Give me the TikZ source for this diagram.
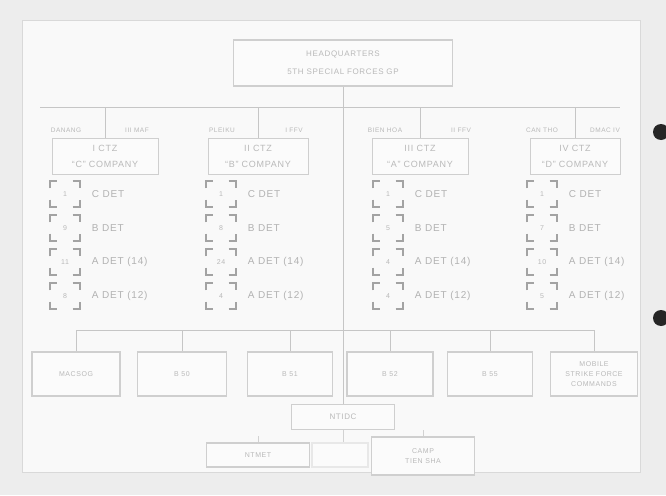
\documentclass[tikz,border=0pt]{standalone}
\usepackage{fontspec}
\usetikzlibrary{positioning}
\newfontfamily\chartfont[LetterSpace=8]{Liberation Sans}

\tikzset{
  sheet/.style={fill=gray!14},
  frame/.style={draw=gray!30, fill=gray!5, line width=0.8pt},
  chartline/.style={draw=gray!45, line width=0.8pt},
  unitbox/.style={draw=gray!38, line width=1.1pt, fill=gray!3, text=gray!55,
    align=center, inner sep=0pt, font=\chartfont\fontsize{7}{10}\selectfont},
  companybox/.style={unitbox, line width=0.8pt, minimum height=36pt,
    font=\chartfont\fontsize{9}{16}\selectfont},
  loclbl/.style={text=gray!55, inner sep=0pt, font=\chartfont\fontsize{6.5}{7}\selectfont},
  detnum/.style={minimum width=29pt, minimum height=25pt, inner sep=0pt,
    text=gray!55, font=\chartfont\fontsize{7}{8}\selectfont},
  detlbl/.style={text=gray!60, inner sep=0pt, anchor=west,
    font=\chartfont\fontsize{10}{11}\selectfont},
  bracket/.style={draw=gray!72, line width=2.2pt},
}

% corner marks round a detachment number
\newcommand{\corners}[1]{%
  \draw[bracket] ([yshift=-7pt]#1.north west) -- (#1.north west) -- ([xshift=7pt]#1.north west);
  \draw[bracket] ([xshift=-7pt]#1.north east) -- (#1.north east) -- ([yshift=-7pt]#1.north east);
  \draw[bracket] ([yshift=7pt]#1.south west) -- (#1.south west) -- ([xshift=7pt]#1.south west);
  \draw[bracket] ([xshift=-7pt]#1.south east) -- (#1.south east) -- ([yshift=7pt]#1.south east);
}

\begin{document}
\begin{tikzpicture}[x=1pt,y=-1pt]
    \useasboundingbox (0,0) rectangle (666,495);
    \clip (0,0) rectangle (666,495);

    % scanned sheet
    \fill[sheet] (0,0) rectangle (666,495);
    \draw[frame] (22,20) rectangle (640,472);
    \fill[black!85] (661,132) circle (8);
    \fill[black!85] (661,318) circle (8);

    % headquarters
    \node[unitbox, minimum width=219pt, minimum height=46pt,
          font=\chartfont\fontsize{8}{18}\selectfont] (hq) at (343,63)
        {HEADQUARTERS\\5TH SPECIAL FORCES GP};

    % companies
    \node[companybox, minimum width=106pt] (compC) at (105,156) {I CTZ\\“C” COMPANY};
    \node[companybox, minimum width=100pt] (compB) at (258,156) {II CTZ\\“B” COMPANY};
    \node[companybox, minimum width=96pt]  (compA) at (420,156) {III CTZ\\“A” COMPANY};
    \node[companybox, minimum width=90pt]  (compD) at (575,156) {IV CTZ\\“D” COMPANY};

    \node[loclbl] (locC) at (66,130)  {DANANG};
    \node[loclbl] (cmdC) at (137,130) {III MAF};
    \node[loclbl] (locB) at (222,130) {PLEIKU};
    \node[loclbl] (cmdB) at (294,130) {I FFV};
    \node[loclbl] (locA) at (385,130) {BIEN HOA};
    \node[loclbl] (cmdA) at (461,130) {II FFV};
    \node[loclbl] (locD) at (542,130) {CAN THO};
    \node[loclbl] (cmdD) at (605,130) {DMAC IV};

    % detachments
    \foreach \col/\bx/\list in {
        C/65/{1/C DET, 9/B DET, 11/A DET (14), 8/A DET (12)},
        B/221/{1/C DET, 8/B DET, 24/A DET (14), 4/A DET (12)},
        A/388/{1/C DET, 5/B DET, 4/A DET (14), 4/A DET (12)},
        D/542/{1/C DET, 7/B DET, 10/A DET (14), 5/A DET (12)}} {
        \foreach \num/\txt [count=\r] in \list {
            \node[detnum] (det\col\r) at (\bx,{160+34*\r}) {\num};
            \corners{det\col\r}
            \node[detlbl, right=12pt of det\col\r] (lbl\col\r) {\txt};
        }
    }

    % support units
    \node[unitbox, minimum width=88pt, minimum height=44pt] (macsog) at (76,374)  {MACSOG};
    \node[unitbox, minimum width=89pt, minimum height=44pt] (bfifty) at (182,374) {B 50};
    \node[unitbox, minimum width=85pt, minimum height=44pt] (bfone)  at (290,374) {B 51};
    \node[unitbox, minimum width=86pt, minimum height=44pt] (bftwo)  at (390,374) {B 52};
    \node[unitbox, minimum width=85pt, minimum height=44pt] (bffive) at (490,374) {B 55};
    \node[unitbox, minimum width=87pt, minimum height=44pt] (msf)    at (594,374)
        {MOBILE\\STRIKE FORCE\\COMMANDS};

    % training and camp
    \node[unitbox, minimum width=103pt, minimum height=25pt,
          font=\chartfont\fontsize{8}{10}\selectfont] (ntidc) at (343,417) {NTIDC};
    \node[unitbox, minimum width=103pt, minimum height=24pt] (ntmet) at (258,455) {NTMET};
    \node[unitbox, draw=gray!18, minimum width=56pt, minimum height=24pt] (spare) at (340,455) {};
    \node[unitbox, minimum width=103pt, minimum height=38pt] (camp) at (423,456) {CAMP\\TIEN SHA};

    % connectors
    \coordinate (busw) at (40,107);
    \coordinate (buse) at (620,107);
    \coordinate (lbusw) at (76,330);
    \coordinate (lbuse) at (594,330);
    \draw[chartline] (busw) -- (buse);
    \draw[chartline] (lbusw) -- (lbuse);
    \draw[chartline] (hq.south) -- (ntidc.north);
    \foreach \c in {compC,compB,compA,compD}
        \draw[chartline] (\c.north |- busw) -- (\c.north);
    \foreach \u in {macsog,bfifty,bfone,bftwo,bffive,msf}
        \draw[chartline] (\u.north |- lbusw) -- (\u.north);
    \draw[chartline, draw=gray!35] (ntidc.south) -- (ntidc.south |- spare.north);
    \draw[chartline, draw=gray!35] ([yshift=6pt]ntmet.north) -- (ntmet.north);
    \draw[chartline, draw=gray!35] ([yshift=6pt]camp.north) -- (camp.north);
\end{tikzpicture}
\end{document}
